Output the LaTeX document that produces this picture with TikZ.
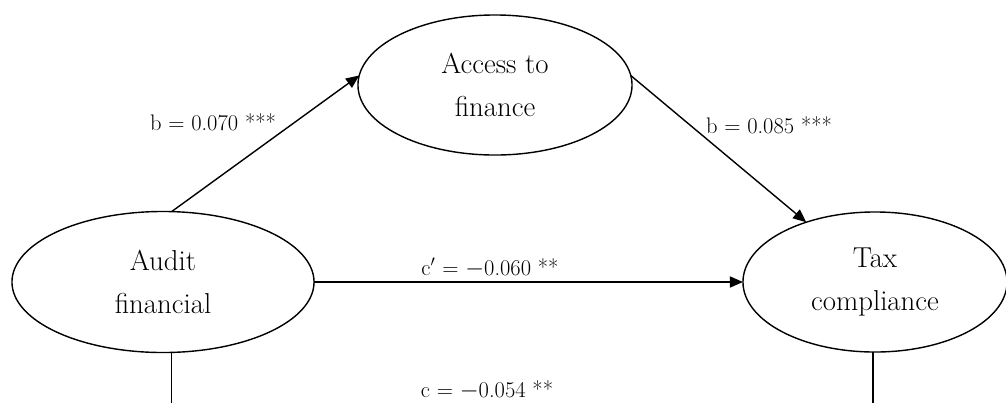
\documentclass[tikz,border=0pt]{standalone}
\usetikzlibrary{arrows.meta,shapes.geometric}
\begin{document}
\begin{tikzpicture}[x=0.025cm,y=-0.025cm,
  ell/.style={ellipse, draw, line width=1pt, inner sep=0pt, outer sep=0pt, align=center, font=\fontsize{20.5}{31}\selectfont},
  lab/.style={font=\fontsize{16}{19}\selectfont, inner sep=0pt},
  arr/.style={-{Triangle[length=0.33cm,width=0.28cm]}, line width=1pt}]
\useasboundingbox (0,0) rectangle (1006,403);
\node[ell, minimum width=7.55cm, minimum height=3.525cm] (aud) at (163,282) {Audit\\financial};
\node[ell, minimum width=6.85cm, minimum height=3.5cm] (acc) at (495,85) {Access to\\finance};
\node[ell, minimum width=6.6cm, minimum height=3.5cm] (tax) at (875,282) {Tax\\compliance};
\coordinate (bot) at (0,403);
\draw[arr] (aud.83) -- (acc.176);
\draw[arr] (acc.4) -- (tax.139);
\draw[arr] (aud.east) -- (tax.west);
\draw[line width=1pt] (aud.-83) -- (aud.-83 |- bot);
\draw[line width=1.4pt] (tax.-92) -- (tax.-92 |- bot);
\node[lab] (l1) at (213,122) {b = 0.070 ***};
\node[lab] (l2) at (769,125) {b = 0.085 ***};
\node[lab] (l3) at (490,268) {c$'$ = $-$0.060 **};
\node[lab] (l4) at (487,390) {c = $-$0.054 **};
\end{tikzpicture}
\end{document}
